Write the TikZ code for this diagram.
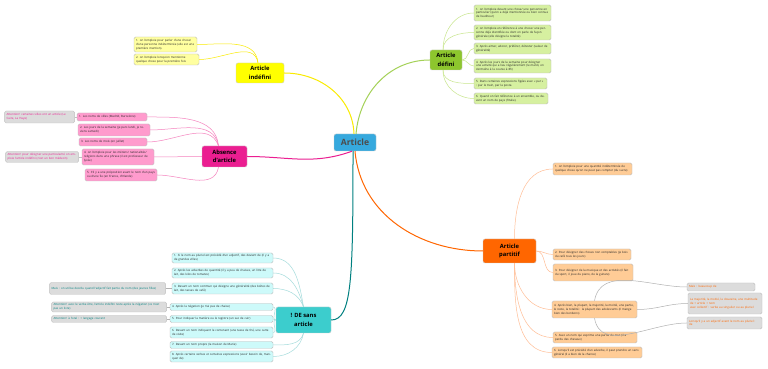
\documentclass[tikz,border=0pt]{standalone}
\usepackage{fontspec}
\setmainfont{Open Sans}
\usepackage{xcolor}
\usepackage{tikz}
\usetikzlibrary{positioning}
\definecolor{articleblue}{RGB}{54,169,222}
\definecolor{indyellow}{RGB}{255,255,0}
\definecolor{indleafc}{RGB}{255,255,160}
\definecolor{indline}{RGB}{250,235,0}
\definecolor{defgreen}{RGB}{141,198,45}
\definecolor{defleafc}{RGB}{214,240,160}
\definecolor{defline}{RGB}{200,230,140}
\definecolor{absmagenta}{RGB}{235,30,145}
\definecolor{absleafc}{RGB}{255,155,205}
\definecolor{absline}{RGB}{245,130,190}
\definecolor{partorange}{RGB}{255,102,0}
\definecolor{partleafc}{RGB}{255,204,150}
\definecolor{partline}{RGB}{255,190,150}
\definecolor{deteal}{RGB}{60,205,205}
\definecolor{deleafc}{RGB}{205,250,250}
\definecolor{deline}{RGB}{165,220,220}
\definecolor{deroot}{RGB}{0,128,128}
\definecolor{notegray}{RGB}{220,220,220}
\tikzstyle{central} = [rectangle, rounded corners=2pt, draw=black!20, fill=articleblue, text=black!70, font=\bfseries\fontsize{8.6}{10}\selectfont, minimum width=42pt, minimum height=17pt, inner sep=1pt]
\tikzstyle{topic} = [rectangle, rounded corners=2pt, draw=black!20, align=center, text=black, font=\bfseries\fontsize{5.8}{8.6}\selectfont, inner sep=1pt]
\tikzstyle{leaf} = [rectangle, rounded corners=1.5pt, align=left, text=black!85, font=\fontsize{2.9}{3.8}\selectfont, inner xsep=2pt, inner ysep=0.5pt]
\tikzstyle{indleaf} = [leaf, fill=indleafc, draw=black!25]
\tikzstyle{defleaf} = [leaf, fill=defleafc, draw=black!25]
\tikzstyle{absleaf} = [leaf, fill=absleafc, draw=black!25]
\tikzstyle{partleaf} = [leaf, fill=partleafc, draw=black!25]
\tikzstyle{deleaf} = [leaf, fill=deleafc, draw=black!25]
\tikzstyle{note} = [leaf, fill=notegray, draw=black!25]
\tikzstyle{branch} = [line width=1pt]
\tikzstyle{twig} = [line width=0.5pt]

\begin{document}
\begin{tikzpicture}[x=1pt, y=1pt]
\fill[white] (0,0) rectangle (768,369);
\useasboundingbox (0,0) rectangle (768,369);

% ===== CENTRE =====
\node (art) [central] at (355,226.5) {Article};

% ===== ARTICLE INDEFINI (TOP LEFT) =====
\node (ind) [topic, fill=indyellow, minimum width=48pt, minimum height=20pt] at (260,296) {Article\\indéfini};
\node (ind1) [indleaf, text width=59pt, minimum height=15pt] at (165.5,324.5) {1. on l'emploie pour parler d'une chose/ d'une personne indéterminée (elle est une première mention).};
\node (ind2) [indleaf, text width=61pt, minimum height=11pt] at (166.5,309.5) {2. on l'emploie lorsqu'on mentionne quelque chose pour la première fois};

% ===== ARTICLE DEFINI (TOP RIGHT) =====
\node (def) [topic, fill=defgreen, minimum width=32pt, minimum height=20pt] at (446,309) {Article\\défini};
\node (def1) [defleaf, text width=73pt, minimum height=16pt] at (512.5,356) {1. on l'emploie devant une chose/ une personne en particulier (qu'on a déjà mentionnée ou bien connue de l'auditeur)};
\node (def2) [defleaf, text width=73pt, minimum height=15pt] at (512.5,336.5) {2. on l'emploie en référence à une chose/ une personne déjà identifiée ou dont on parle de façon générale (elle désigne la totalité)};
\node (def3) [defleaf, text width=73pt, minimum height=11pt] at (512.5,320.5) {3. Après aimer, adorer, préférer, détester (valeur de généralité)};
\node (def4) [defleaf, text width=73pt, minimum height=14pt] at (512.5,303) {4. Après les jours de la semaine pour désigner une activité qui a lieu régulièrement (le mardi, on s'entraîne à la course à 8h)};
\node (def5) [defleaf, text width=69pt, minimum height=11pt] at (510.5,285.5) {5. Dans certaines expressions figées avec « par » : par le train, par la poste.};
\node (def6) [defleaf, text width=70pt, minimum height=11pt] at (511,270.5) {6. Quand on fait référence à un ensemble, ou devant un nom de pays (l'Italie).};

% ===== ABSENCE D'ARTICLE (LEFT) =====
\node (abs) [topic, fill=absmagenta, minimum width=45pt, minimum height=21pt] at (224.5,212.5) {Absence\\d'article};
\node (abs1) [absleaf, text width=66pt, minimum height=8pt] at (112,252) {1. Les noms de villes (Madrid, Barcelone)};
\node (abs2) [absleaf, text width=68pt, minimum height=12pt] at (114,239) {2. Les jours de la semaine (je pars lundi, je reviens samedi)};
\node (abs3) [absleaf, text width=64pt, minimum height=8pt] at (113,227) {3. Les noms de mois (en juillet)};
\node (abs4) [absleaf, text width=68pt, minimum height=16pt] at (118,212) {4. on l'emploie pour les métiers/ nationalités/ religions dans une phrase (il est professeur de lycée)};
\node (abs5) [absleaf, text width=68pt, minimum height=12pt] at (121,194) {5. S'il y a une préposition avant le nom d'un pays ou d'une île (en France, d'Irlande)};
\node (absN1) [note, text=absmagenta, text width=66pt, minimum height=12pt, left=2pt of abs1] {Attention! certaines villes ont un article (Le Caire, La Haye)};
\node (absN2) [note, text=absmagenta, text width=69pt, minimum height=11pt, left=3pt of abs4] {Attention! pour désigner une particularité on emploie l'article indéfini (c'est un bon médecin)};

% ===== ARTICLE PARTITIF (RIGHT) =====
\node (part) [topic, fill=partorange, minimum width=53pt, minimum height=24pt] at (509.5,118) {Article\\partitif};
\node (part1) [partleaf, text width=75pt, minimum height=12pt] at (592.5,200) {1. on l'emploie pour une quantité indéterminée de quelque chose qu'on ne peut pas compter (du sucre)};
\node (part2) [partleaf, text width=74pt, minimum height=11pt] at (592,114.5) {2. Pour désigner des choses non comptables (je bois du café tous les jours)};
\node (part3) [partleaf, text width=76pt, minimum height=17pt] at (593,96.5) {3. Pour désigner de la musique et des activités (il fait du sport, il joue du piano, de la guitare)};
\node (part4) [partleaf, text width=81pt, minimum height=17pt] at (594.5,59.5) {4. Après bien, la plupart, la majorité, la moitié, une partie, le reste, la totalité : la plupart des adolescents (il mange bien des bonbons)};
\node (part5) [partleaf, text width=80pt, minimum height=11pt] at (595,31.5) {5. Avec un nom qui exprime une partie du tout (il a perdu des cheveux)};
\node (part6) [partleaf, text width=86pt, minimum height=11pt] at (597,16.5) {6. Lorsqu'il est précédé d'un adverbe, il peut prendre un sens général (il a bien de la chance)};
\node (partN1) [note, text=partorange, text width=64pt, minimum height=8pt] at (721,82) {Mais : beaucoup de};
\node (partN2) [note, text=partorange, text width=70pt, minimum height=21pt] at (725,65.5) {La majorité, la moitié, la douzaine, une multitude de + article + nom\\avec collectif : verbe au singulier ou au pluriel};
\node (partN3) [note, text=partorange, text width=71pt, minimum height=12pt] at (724.5,46) {Lorsqu'il y a un adjectif avant le nom au pluriel : de};

% ===== ! DE SANS ARTICLE (BOTTOM) =====
\node (desans) [topic, fill=deteal, minimum width=55pt, minimum height=26pt] at (303.5,49) {! DE sans\\article};
\node (de1) [deleaf, text width=97pt, minimum height=10pt] at (222.5,111) {1. Si le nom au pluriel est précédé d'un adjectif, des devient de (il y a de grandes villes)};
\node (de2) [deleaf, text width=97pt, minimum height=10pt] at (222.5,96) {2. Après les adverbes de quantité (il y a peu de chaises, un litre de lait, des kilos de tomates)};
\node (de3) [deleaf, text width=97pt, minimum height=11pt] at (222.5,80.5) {3. Devant un nom commun qui désigne une généralité (des boîtes de lait, des tasses de café)};
\node (de4) [deleaf, text width=99pt, minimum height=7pt] at (221.5,62) {4. Après la négation (je n'ai pas de chaise)};
\node (de5) [deleaf, text width=99pt, minimum height=7pt] at (221.5,50) {5. Pour indiquer la matière ou le registre (un sac de cuir)};
\node (de6) [deleaf, text width=99pt, minimum height=11pt] at (221.5,36.5) {6. Devant un nom indiquant le contenant (une tasse de thé, une carte de visite)};
\node (de7) [deleaf, text width=99pt, minimum height=7pt] at (221.5,24) {7. Devant un nom propre (la maison de Marie)};
\node (de8) [deleaf, text width=99pt, minimum height=11pt] at (221.5,12.5) {8. Après certains verbes et certaines expressions (avoir besoin de, manquer de)};
\node (deN1) [note, text=deroot, text width=112pt, minimum height=12pt, left=6pt of de3] {Mais : on utilise des/du quand l'adjectif fait partie du nom (des jeunes filles)};
\node (deN2) [note, text=deroot, text width=111pt, minimum height=10pt, left=3pt of de4] {Attention! avec le verbe être, l'article indéfini reste après la négation (ce n'est pas un livre)};
\node (deN3) [note, text=deroot, text width=111pt, minimum height=7pt, left=3pt of de5] {Attention! à l'oral : + langage courant};

% ===== MAIN BRANCHES =====
\draw [branch, indline] ([xshift=-1pt]art.north) to[out=92, in=0] (ind.east);
\draw [branch, defgreen!80] ([xshift=1pt]art.north) to[out=85, in=180] (def.west);
\draw [branch, absmagenta] ([xshift=-3pt]art.south) to[out=200, in=0] (abs.east);
\draw [branch, partorange] (art.south) to[out=-85, in=180] (part.west);
\draw [branch, deroot] ([xshift=-2pt]art.south) .. controls (353,90) and (352,49) .. (desans.east);

% ===== SUB BRANCHES =====
% indefini
\draw [twig, indline] ([xshift=-2pt]ind.north) to[out=95, in=0] (ind1.east);
\draw [twig, indline] ([xshift=-2pt]ind.north) to[out=100, in=0] (ind2.east);
% defini
\draw [twig, defline] ([xshift=-3pt]def.north) to[out=90, in=180] (def1.west);
\draw [twig, defline] ([xshift=-3pt]def.north) to[out=90, in=180] (def2.west);
\draw [twig, defline] (def.east) to[out=0, in=180] (def3.west);
\draw [twig, defline] (def.east) to[out=0, in=180] (def4.west);
\draw [twig, defline] ([xshift=-3pt]def.south) to[out=-90, in=180] (def5.west);
\draw [twig, defline] ([xshift=-3pt]def.south) to[out=-90, in=180] (def6.west);
% absence
\draw [twig, absline] ([xshift=-6pt]abs.north) to[out=95, in=0] (abs1.east);
\draw [twig, absline] ([xshift=-6pt]abs.north) to[out=100, in=0] (abs2.east);
\draw [twig, absline] ([xshift=-6pt]abs.north) to[out=110, in=0] (abs3.east);
\draw [twig, absline] (abs.west) -- (abs4.east);
\draw [twig, absline] ([xshift=-6pt]abs.south) to[out=-100, in=0] (abs5.east);
\draw [twig, black!25] (absN1.east) -- (abs1.west);
\draw [twig, black!25] (absN2.east) -- (abs4.west);
% partitif
\draw [twig, partline] ([xshift=5pt]part.north) to[out=90, in=180] (part1.west);
\draw [twig, partline] (part.east) to[out=0, in=180] (part2.west);
\draw [twig, partline] (part.east) to[out=0, in=180] (part3.west);
\draw [twig, partline] ([xshift=5pt]part.south) to[out=-90, in=180] (part4.west);
\draw [twig, partline] ([xshift=5pt]part.south) to[out=-90, in=180] (part5.west);
\draw [twig, partline] ([xshift=5pt]part.south) to[out=-90, in=180] (part6.west);
\draw [twig, black!30] (part4.north) to[out=80, in=180] (partN1.west);
\draw [twig, black!30] (part4.east) to[out=0, in=180] (partN2.west);
\draw [twig, black!30] (part4.south) to[out=-80, in=180] (partN3.west);
% de sans article
\draw [twig, deline] (desans.north) to[out=100, in=0] (de1.east);
\draw [twig, deline] (desans.north) to[out=105, in=0] (de2.east);
\draw [twig, deline] (desans.north) to[out=110, in=0] (de3.east);
\draw [twig, deline] (desans.west) to[out=180, in=0] (de4.east);
\draw [twig, deline] (desans.west) -- (de5.east);
\draw [twig, deline] (desans.west) to[out=180, in=0] (de6.east);
\draw [twig, deline] (desans.south) to[out=-105, in=0] (de7.east);
\draw [twig, deline] (desans.south) to[out=-100, in=0] (de8.east);
\draw [twig, black!30] (deN1.east) -- (de3.west);
\draw [twig, black!30] (deN2.east) -- (de4.west);
\draw [twig, black!30] (deN3.east) -- (de5.west);

\end{tikzpicture}
\end{document}
